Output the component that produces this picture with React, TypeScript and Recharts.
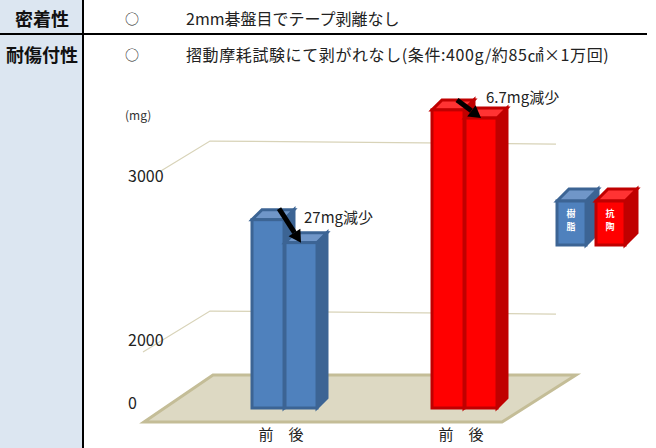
import { BarChart, Bar, XAxis, YAxis, ReferenceLine, LabelList, Legend } from "recharts";

const FONT = '"Noto Sans CJK JP", "Noto Sans", sans-serif';
const groups = ["樹脂", "抗陶"];
const beforeValues = [2740, 3410];
const afterValues = [2600, 3360];
const notes = ["27mg減少", "6.7mg減少"];
const yTicks = [0, 2000, 3000];
const gridValues = [2000, 3000];
const rowNames = ["密着性", "耐傷付性"];
const rowMarks = ["○", "○"];
const rowTexts = ["2mm碁盤目でテープ剥離なし", "摺動摩耗試験にて剥がれなし(条件:400g/約85㎠×1万回)"];

const BLUE = { front: "#4f81bd", edge: "#3c6494", top: "#7096c8" };
const RED = { front: "#ff0000", edge: "#c00000", top: "#ff3333" };
const palette = [BLUE, RED];

const chartData = groups.map((g, i) => ({
    group: g,
    before: beforeValues[i],
    after: afterValues[i],
    note: notes[i],
}));

// the axis in the picture is broken: the stretch above 2000 is much taller
const scaleKnots = [0, 2000, 3000, 3800];
const scaleFractions = [0, 0.185, 0.638, 1];

function brokenScale(dom = [0, 3800], rng = [408, 46]): any {
    const s: any = (v: number) => {
        let i = 0;
        while (i < scaleKnots.length - 2 && v > scaleKnots[i + 1]) i++;
        const t = (v - scaleKnots[i]) / (scaleKnots[i + 1] - scaleKnots[i]);
        const f = scaleFractions[i] + t * (scaleFractions[i + 1] - scaleFractions[i]);
        return rng[0] + f * (rng[1] - rng[0]);
    };
    s.domain = (d?: number[]) => (d ? brokenScale(d, rng) : dom);
    s.range = (r?: number[]) => (r ? brokenScale(dom, r) : rng);
    s.ticks = () => yTicks;
    s.copy = () => brokenScale(dom, rng);
    return s;
}

function Box3D({ x, y, width, height, depth, colors }: any) {
    return (
        <g stroke={colors.edge} strokeWidth={3} strokeLinejoin="miter">
            <polygon
                points={`${x + width},${y} ${x + width + depth},${y - depth} ${x + width + depth},${y + height - depth} ${x + width},${y + height}`}
                fill={colors.edge}
            />
            <polygon
                points={`${x},${y} ${x + depth},${y - depth} ${x + width + depth},${y - depth} ${x + width},${y}`}
                fill={colors.top}
            />
            <rect x={x} y={y} width={width} height={height} fill={colors.front} />
        </g>
    );
}

const BarShape = (props: any) => (
    <Box3D {...props} depth={10} colors={palette[props.index]} />
);

function GridLine({ y1, x2, rise, run }: any) {
    const back = y1 - rise;
    return (
        <polyline
            points={`${210 - run},${back + run * 0.61} 210,${back} ${x2 + 2},${back + 3}`}
            stroke="#d8d3b8"
            fill="none"
            strokeWidth={1.2}
        />
    );
}

function Floor({ y1 }: any) {
    return (
        <polygon
            points={`144,${y1 + 14} 213,${y1 - 33} 576,${y1 - 33} 502,${y1 + 14}`}
            fill="#ddd9c3"
            stroke="#c4bd97"
            strokeWidth={3}
        />
    );
}

function DropNote({ x, y, width, index, value }: any) {
    const big = index === 1;
    const tipX = x + width / 2;
    const tipY = y;
    const dx = big ? -24 : -22;
    const dy = big ? -18 : -34;
    const len = Math.hypot(dx, dy);
    const ux = dx / len;
    const uy = dy / len;
    const neckX = tipX + ux * 12;
    const neckY = tipY + uy * 12;
    return (
        <g>
            <line x1={tipX + dx} y1={tipY + dy} x2={neckX} y2={neckY} stroke="#000" strokeWidth={5} />
            <polygon
                points={`${tipX},${tipY} ${neckX - uy * 7},${neckY + ux * 7} ${neckX + uy * 7},${neckY - ux * 7}`}
                fill="#000"
            />
            <text
                x={big ? x + 21 : x + 19}
                y={big ? y - 15 : y - 20}
                fontSize={15}
                fontFamily={FONT}
                fill="#222"
            >
                {value}
            </text>
        </g>
    );
}

// 0 sits a little above the bar base in the picture
function YTick({ x, y, payload }: any) {
    return (
        <text
            x={x - 58}
            y={y + (payload.value === 0 ? -4 : 0)}
            dy={5}
            textAnchor="start"
            fontSize={16}
            fontFamily={FONT}
            fill="#222"
        >
            {payload.value}
        </text>
    );
}

function LegendBoxes() {
    return (
        <svg width={90} height={62} style={{ display: "block", overflow: "visible" }}>
            {groups.map((g, i) => (
                <g key={g} transform={`translate(${i * 39},0)`}>
                    <Box3D x={2} y={13} width={29} height={44} depth={12} colors={palette[i]} />
                    {g.split("").map((c, j) => (
                        <text
                            key={c}
                            x={16}
                            y={29 + j * 12.5}
                            textAnchor="middle"
                            fontSize={9}
                            fontWeight={700}
                            fontFamily={FONT}
                            fill="#fff"
                        >
                            {c}
                        </text>
                    ))}
                </g>
            ))}
        </svg>
    );
}

function SpecTable() {
    return (
        <div style={{ position: "absolute", left: 0, top: 0, width: 656, height: 448, background: "#fff", fontFamily: FONT }}>
            <div style={{ position: "absolute", left: 0, top: 0, width: 82, height: 448, background: "#dce6f1" }} />
            <div style={{ position: "absolute", left: 82, top: 0, width: 2, height: 448, background: "#000" }} />
            <div style={{ position: "absolute", left: 0, top: 33, width: 647, height: 2, background: "#000" }} />
            {rowNames.map((name, i) => (
                <div key={name}>
                    <div style={{ position: "absolute", left: 0, width: 84, top: i ? 41 : 5, textAlign: "center", fontSize: 18, lineHeight: "26px", fontWeight: 700, color: "#111" }}>
                        {name}
                    </div>
                    <div style={{ position: "absolute", left: 125, top: i ? 43 : 7, fontSize: 14, lineHeight: "22px", color: "#222" }}>
                        {rowMarks[i]}
                    </div>
                    <div style={{ position: "absolute", left: 186, top: i ? 43 : 7, fontSize: 16, letterSpacing: i ? 0.6 : 0, lineHeight: "22px", color: "#222", whiteSpace: "nowrap" }}>
                        {rowTexts[i]}
                    </div>
                </div>
            ))}
        </div>
    );
}

export default function App() {
    return (
        <div style={{ position: "absolute", left: 0, top: 0, width: 656, height: 448 }}>
            <SpecTable />
            <div style={{ position: "absolute", left: 0, top: 0 }}>
                <BarChart
                    width={656}
                    height={448}
                    data={chartData}
                    margin={{ top: 46, right: 102, bottom: 0, left: 134 }}
                    barGap={1}
                    barSize={32}
                >
                    <ReferenceLine y={0} shape={<Floor />} zIndex={-100} />
                    {gridValues.map((v) => (
                        <ReferenceLine
                            key={v}
                            y={v}
                            zIndex={-100}
                            shape={<GridLine rise={v === 3000 ? 36 : 30} run={v === 3000 ? 50 : 67} />}
                        />
                    ))}
                    <XAxis
                        dataKey="group"
                        height={40}
                        tickFormatter={() => "前　後"}
                        axisLine={false}
                        tickLine={false}
                        tick={{ fontSize: 15, fill: "#222", fontFamily: FONT, dy: 13, dx: -3 }}
                    />
                    <YAxis
                        width={60}
                        domain={[0, 3800]}
                        scale={brokenScale()}
                        ticks={yTicks}
                        axisLine={false}
                        tickLine={false}
                        tick={<YTick />}
                        label={{ value: "(mg)", position: "insideTopLeft", dx: -14, dy: 60, fontSize: 12, fill: "#333", fontFamily: FONT }}
                    />
                    <Legend
                        layout="horizontal"
                        align="center"
                        verticalAlign="middle"
                        content={<LegendBoxes />}
                        wrapperStyle={{ position: "absolute", left: 555, top: 188, width: 90 }}
                    />
                    <Bar dataKey="before" isAnimationActive={false} shape={<BarShape />} />
                    <Bar dataKey="after" isAnimationActive={false} shape={<BarShape />}>
                        <LabelList dataKey="note" content={<DropNote />} />
                    </Bar>
                </BarChart>
            </div>
        </div>
    );
}
